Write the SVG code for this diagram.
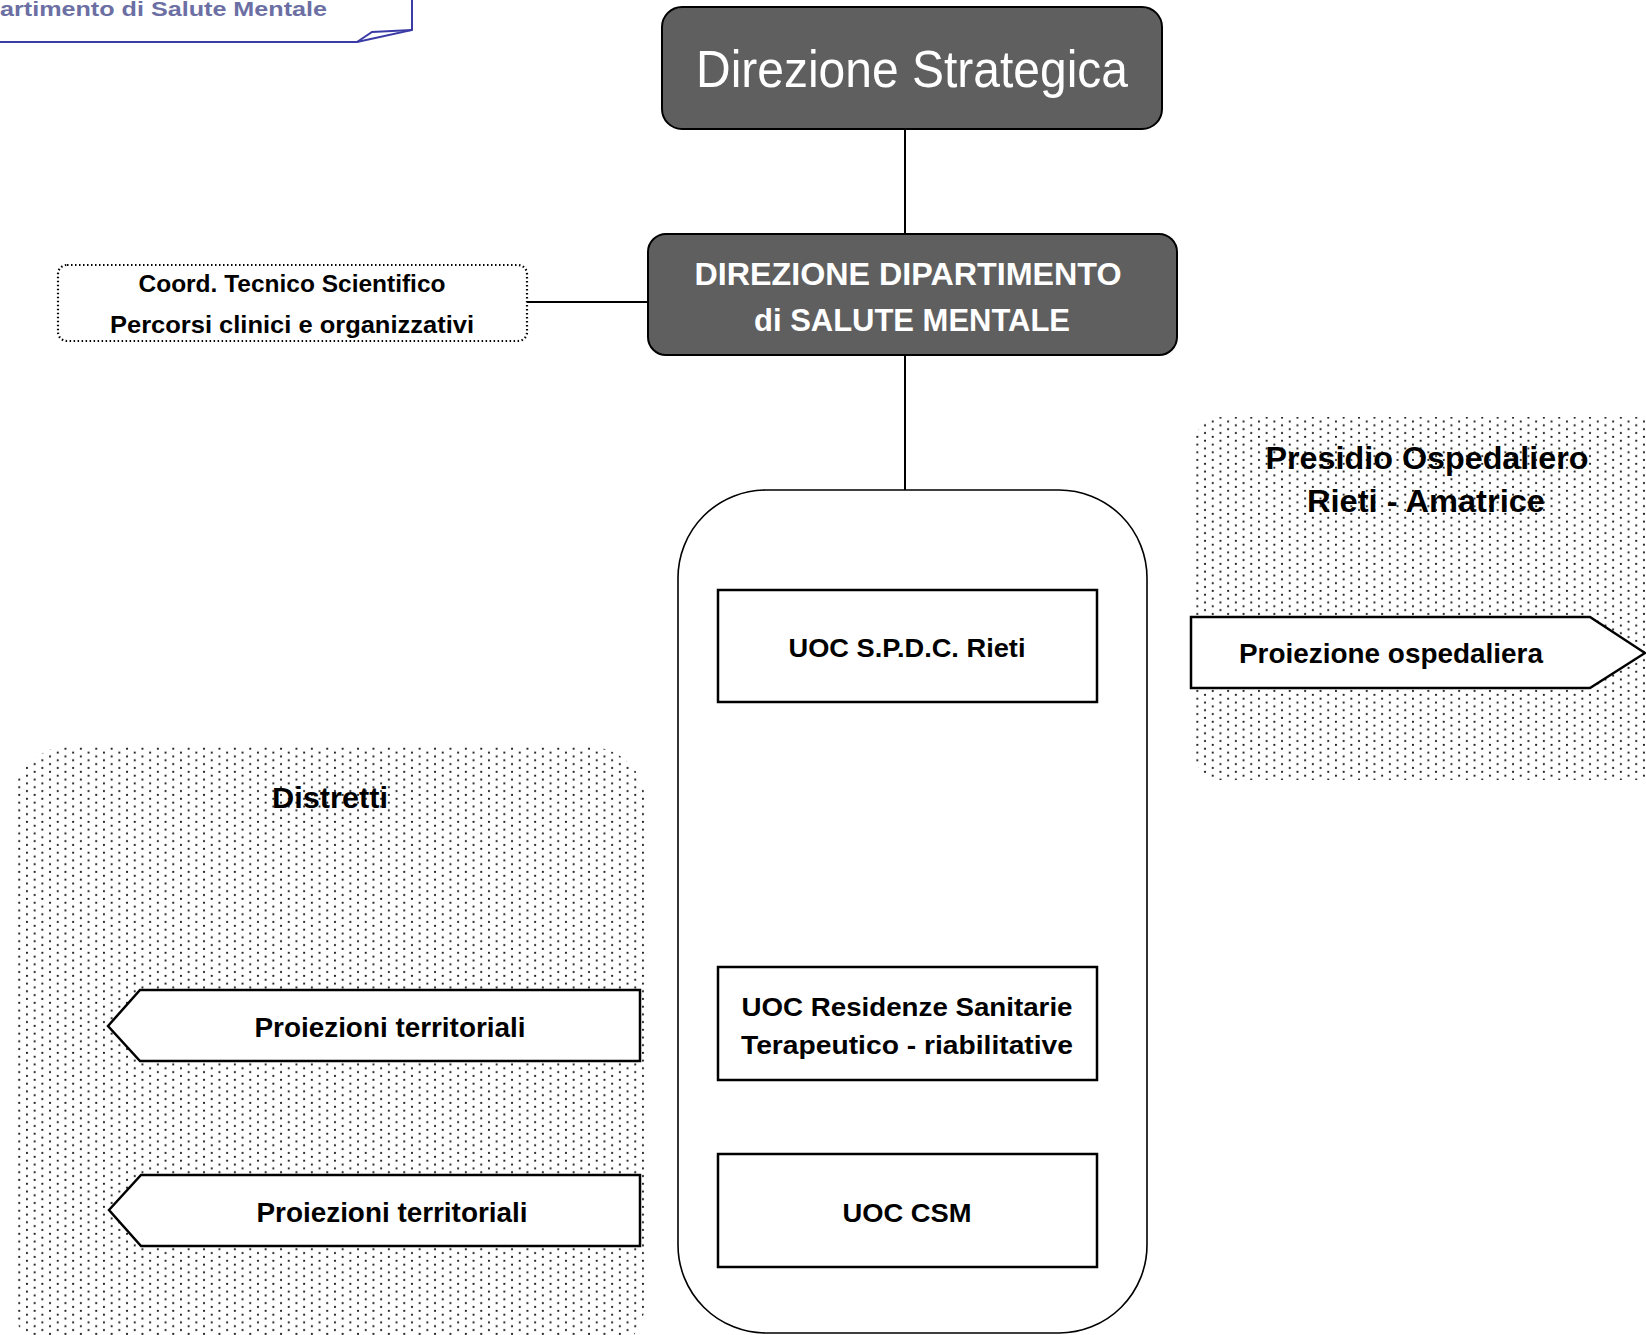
<svg xmlns="http://www.w3.org/2000/svg" width="1646" height="1335" viewBox="0 0 1646 1335">
  <defs>
    <pattern id="dots" width="15.4" height="7.7" patternUnits="userSpaceOnUse">
      <circle cx="3.85" cy="1.9" r="1.1" fill="#1a1a1a"/>
      <circle cx="11.55" cy="5.75" r="1.1" fill="#1a1a1a"/>
    </pattern>
    <style>
      .t { font-family: "Liberation Sans", Arial, sans-serif; font-weight: bold; fill: #000; text-anchor: middle; }
      .w { font-family: "Liberation Sans", Arial, sans-serif; fill: #fff; text-anchor: middle; }
      .dark { fill: #5f5f5f; stroke: #000; stroke-width: 2; }
      .box { fill: #fff; stroke: #000; stroke-width: 2.5; }
      .arrow { fill: #fff; stroke: #000; stroke-width: 2.5; stroke-linejoin: miter; }
      .conn { stroke: #000; stroke-width: 2; fill: none; }
    </style>
  </defs>
  <rect width="1646" height="1335" fill="#fff"/>

  <g id="callout">
    <path d="M -5 42 L 357 42 L 412 30 L 412 -5" fill="none" stroke="#3b3ba6" stroke-width="2"/>
    <path d="M 357 42 L 372 32 L 412 30" fill="none" stroke="#3b3ba6" stroke-width="2"/>
    <text x="0" y="16" font-family="Liberation Sans, Arial, sans-serif" font-weight="bold" font-size="20" fill="#6c6fa3" textLength="327" lengthAdjust="spacingAndGlyphs">artimento di Salute Mentale</text>
  </g>

  <g id="distretti">
    <rect x="13" y="747" width="632" height="610" rx="55" fill="url(#dots)"/>
    <text class="t" x="330" y="808" font-size="30" textLength="116" lengthAdjust="spacingAndGlyphs">Distretti</text>
  </g>

  <g id="presidio">
    <rect x="1195" y="417" width="480" height="363" rx="25" fill="url(#dots)"/>
    <text class="t" x="1427" y="469" font-size="31" textLength="323" lengthAdjust="spacingAndGlyphs">Presidio Ospedaliero</text>
    <text class="t" x="1426" y="512" font-size="31" textLength="238" lengthAdjust="spacingAndGlyphs">Rieti - Amatrice</text>
  </g>

  <g id="connectors">
    <line class="conn" x1="905" y1="129" x2="905" y2="234"/>
    <line class="conn" x1="905" y1="355" x2="905" y2="490"/>
    <line class="conn" x1="527" y1="302" x2="648" y2="302"/>
  </g>

  <g id="direzione-strategica">
    <rect class="dark" x="662" y="7" width="500" height="122" rx="20"/>
    <text class="w" x="912" y="87" font-size="52" textLength="432" lengthAdjust="spacingAndGlyphs">Direzione Strategica</text>
  </g>

  <g id="direzione-dipartimento">
    <rect class="dark" x="648" y="234" width="529" height="121" rx="18"/>
    <text class="w" x="908" y="285" font-size="32" font-weight="bold" textLength="427" lengthAdjust="spacingAndGlyphs">DIREZIONE DIPARTIMENTO</text>
    <text class="w" x="912" y="331" font-size="32" font-weight="bold" textLength="316" lengthAdjust="spacingAndGlyphs">di SALUTE MENTALE</text>
  </g>

  <g id="coord">
    <rect x="58" y="265" width="469" height="76" rx="9" fill="#fff" stroke="#000" stroke-width="2.2" stroke-dasharray="1.5 2.5"/>
    <text class="t" x="292" y="292" font-size="23" textLength="307" lengthAdjust="spacingAndGlyphs">Coord. Tecnico Scientifico</text>
    <text class="t" x="292" y="333" font-size="23" textLength="364" lengthAdjust="spacingAndGlyphs">Percorsi clinici e organizzativi</text>
  </g>

  <g id="container">
    <rect x="678" y="490" width="469" height="843" rx="88" fill="#fff" stroke="#000" stroke-width="1.6"/>
  </g>

  <g id="uoc-spdc">
    <rect class="box" x="718" y="590" width="379" height="112"/>
    <text class="t" x="907" y="657" font-size="26" textLength="237" lengthAdjust="spacingAndGlyphs">UOC S.P.D.C. Rieti</text>
  </g>

  <g id="uoc-residenze">
    <rect class="box" x="718" y="967" width="379" height="113"/>
    <text class="t" x="907" y="1016" font-size="26" textLength="331" lengthAdjust="spacingAndGlyphs">UOC Residenze Sanitarie</text>
    <text class="t" x="907" y="1054" font-size="26" textLength="332" lengthAdjust="spacingAndGlyphs">Terapeutico - riabilitative</text>
  </g>

  <g id="uoc-csm">
    <rect class="box" x="718" y="1154" width="379" height="113"/>
    <text class="t" x="907" y="1222" font-size="26" textLength="129" lengthAdjust="spacingAndGlyphs">UOC CSM</text>
  </g>

  <g id="proiezioni-1">
    <polygon class="arrow" points="108,1026 140,990 640,990 640,1061 140,1061"/>
    <text class="t" x="390" y="1037" font-size="27" textLength="271" lengthAdjust="spacingAndGlyphs">Proiezioni territoriali</text>
  </g>

  <g id="proiezioni-2">
    <polygon class="arrow" points="109,1210 141,1175 640,1175 640,1246 141,1246"/>
    <text class="t" x="392" y="1222" font-size="27" textLength="271" lengthAdjust="spacingAndGlyphs">Proiezioni territoriali</text>
  </g>

  <g id="proiezione-ospedaliera">
    <polygon class="arrow" points="1191,617 1590,617 1645,653 1590,688 1191,688"/>
    <text class="t" x="1391" y="663" font-size="27" textLength="304" lengthAdjust="spacingAndGlyphs">Proiezione ospedaliera</text>
  </g>
</svg>
